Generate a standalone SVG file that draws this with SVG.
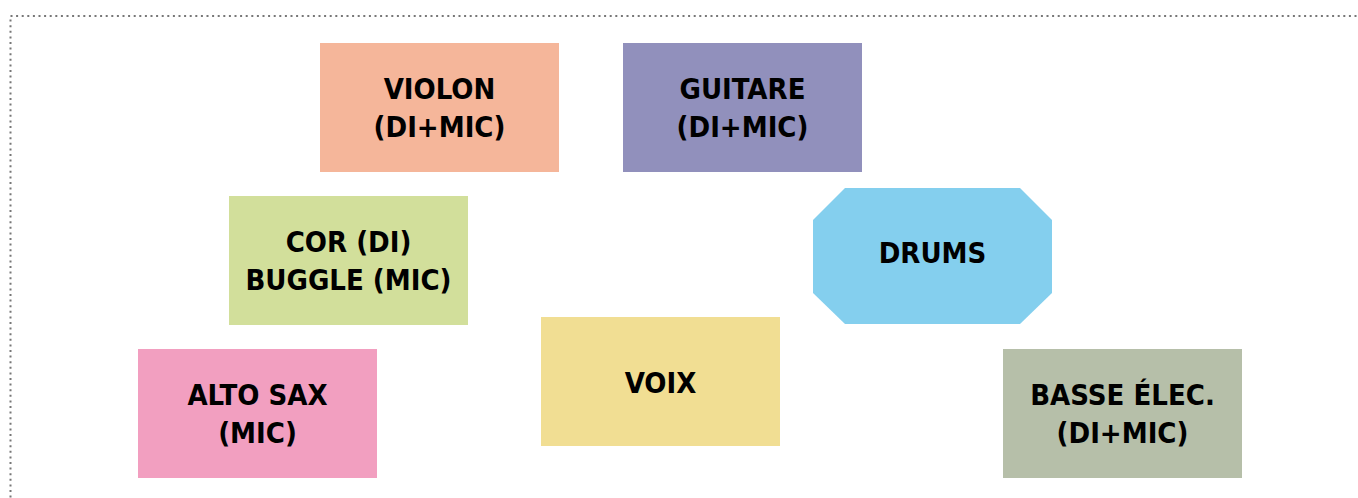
<svg xmlns="http://www.w3.org/2000/svg" width="1358" height="498" viewBox="0 0 1358 498">
<style>
.t{font-family:"DejaVu Sans Condensed","DejaVu Sans",sans-serif;font-weight:bold;font-size:29px;fill:#000;text-anchor:middle}
.frame{fill:none;stroke:#777;stroke-width:2;stroke-dasharray:2 3.6}
</style>
<rect width="1358" height="498" fill="#fff"/>
<path class="frame" d="M10.5 520 V16 H1370"/>
<g id="violon"><rect x="320" y="43" width="239" height="129" fill="#F5B69A"/><text class="t" x="439.5" y="99">VIOLON</text><text class="t" x="439.5" y="137">(DI+MIC)</text></g>
<g id="guitare"><rect x="623" y="43" width="239" height="129" fill="#9190BC"/><text class="t" x="742.5" y="99">GUITARE</text><text class="t" x="742.5" y="137">(DI+MIC)</text></g>
<g id="cor"><rect x="229" y="196" width="239" height="129" fill="#D2DF9B"/><text class="t" x="348.5" y="252">COR (DI)</text><text class="t" x="348.5" y="290">BUGGLE (MIC)</text></g>
<g id="drums"><polygon points="845,188 1020,188 1052,220 1052,293 1020,324 845,324 813,293 813,220" fill="#84CFEE"/><text class="t" x="932.5" y="263">DRUMS</text></g>
<g id="voix"><rect x="541" y="317" width="239" height="129" fill="#F1DE93"/><text class="t" x="660.5" y="393">VOIX</text></g>
<g id="altosax"><rect x="138" y="349" width="239" height="129" fill="#F29FC0"/><text class="t" x="257.5" y="405">ALTO SAX</text><text class="t" x="257.5" y="443">(MIC)</text></g>
<g id="basse"><rect x="1003" y="349" width="239" height="129" fill="#B6BFA9"/><text class="t" x="1122.5" y="405">BASSE ÉLEC.</text><text class="t" x="1122.5" y="443">(DI+MIC)</text></g>
<g id="connectors"></g>
</svg>
